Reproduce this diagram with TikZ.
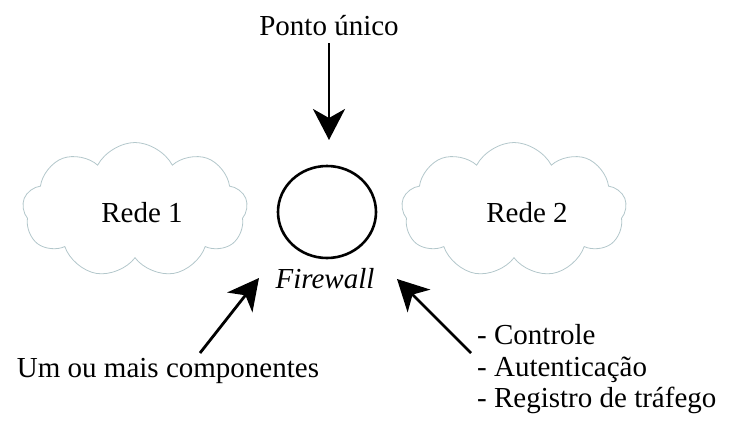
\documentclass[tikz,border=0pt]{standalone}
\usepackage{fontspec}
\setmainfont{Liberation Serif}
\usetikzlibrary{arrows.meta,shapes.symbols}

\tikzset{
  lbl/.style={font=\fontsize{29}{34}\selectfont, inner sep=0pt},
  netcloud/.style={cloud, cloud puffs=9, cloud puff arc=125, aspect=1.67,
    draw=cloudline, line width=0.8pt, minimum width=225pt, minimum height=135pt,
    inner sep=0pt},
  pointer/.style={line width=2.8pt,
    -{Stealth[length=31pt, width=32pt, inset=9pt]}},
}
\definecolor{cloudline}{HTML}{B3C7CB}

\begin{document}
\begin{tikzpicture}[x=1pt, y=-1pt]
  \useasboundingbox (0,0) rectangle (732,424);

  % networks on either side
  \node[netcloud] (cloudA) at (135,210) {};
  \node[netcloud] (cloudB) at (514,210) {};
  \node[lbl, anchor=base] (redeA) at (142,222) {Rede 1};
  \node[lbl, anchor=base] (redeB) at (527,222) {Rede 2};

  % the firewall itself
  \draw[line width=2.6pt] (327,212) ellipse [x radius=49, y radius=46];
  \coordinate (fw) at (327,212);
  \node[lbl, anchor=base] (fwname) at (325,288) {\itshape Firewall};

  % annotations
  \node[lbl, anchor=base] (ponto) at (329,35) {Ponto único};
  \node[lbl, anchor=base] (comp) at (168,377) {Um ou mais componentes};
  \node[lbl, anchor=base west] (f1) at (477,344) {- Controle};
  \node[lbl, anchor=base west] (f2) at (477,376) {- Autenticação};
  \node[lbl, anchor=base west] (f3) at (477,407) {- Registro de tráfego};

  % arrow ends
  \coordinate (pontoTail) at (329,43);
  \coordinate (pontoTip) at (329,140);
  \coordinate (compTail) at (200,353);
  \coordinate (compTip) at (259,278);
  \coordinate (funcTail) at (471,353);
  \coordinate (funcTip) at (397,279);

  \draw[pointer] (pontoTail) -- (pontoTip);
  \draw[pointer] (compTail) -- (compTip);
  \draw[pointer] (funcTail) -- (funcTip);
\end{tikzpicture}
\end{document}
